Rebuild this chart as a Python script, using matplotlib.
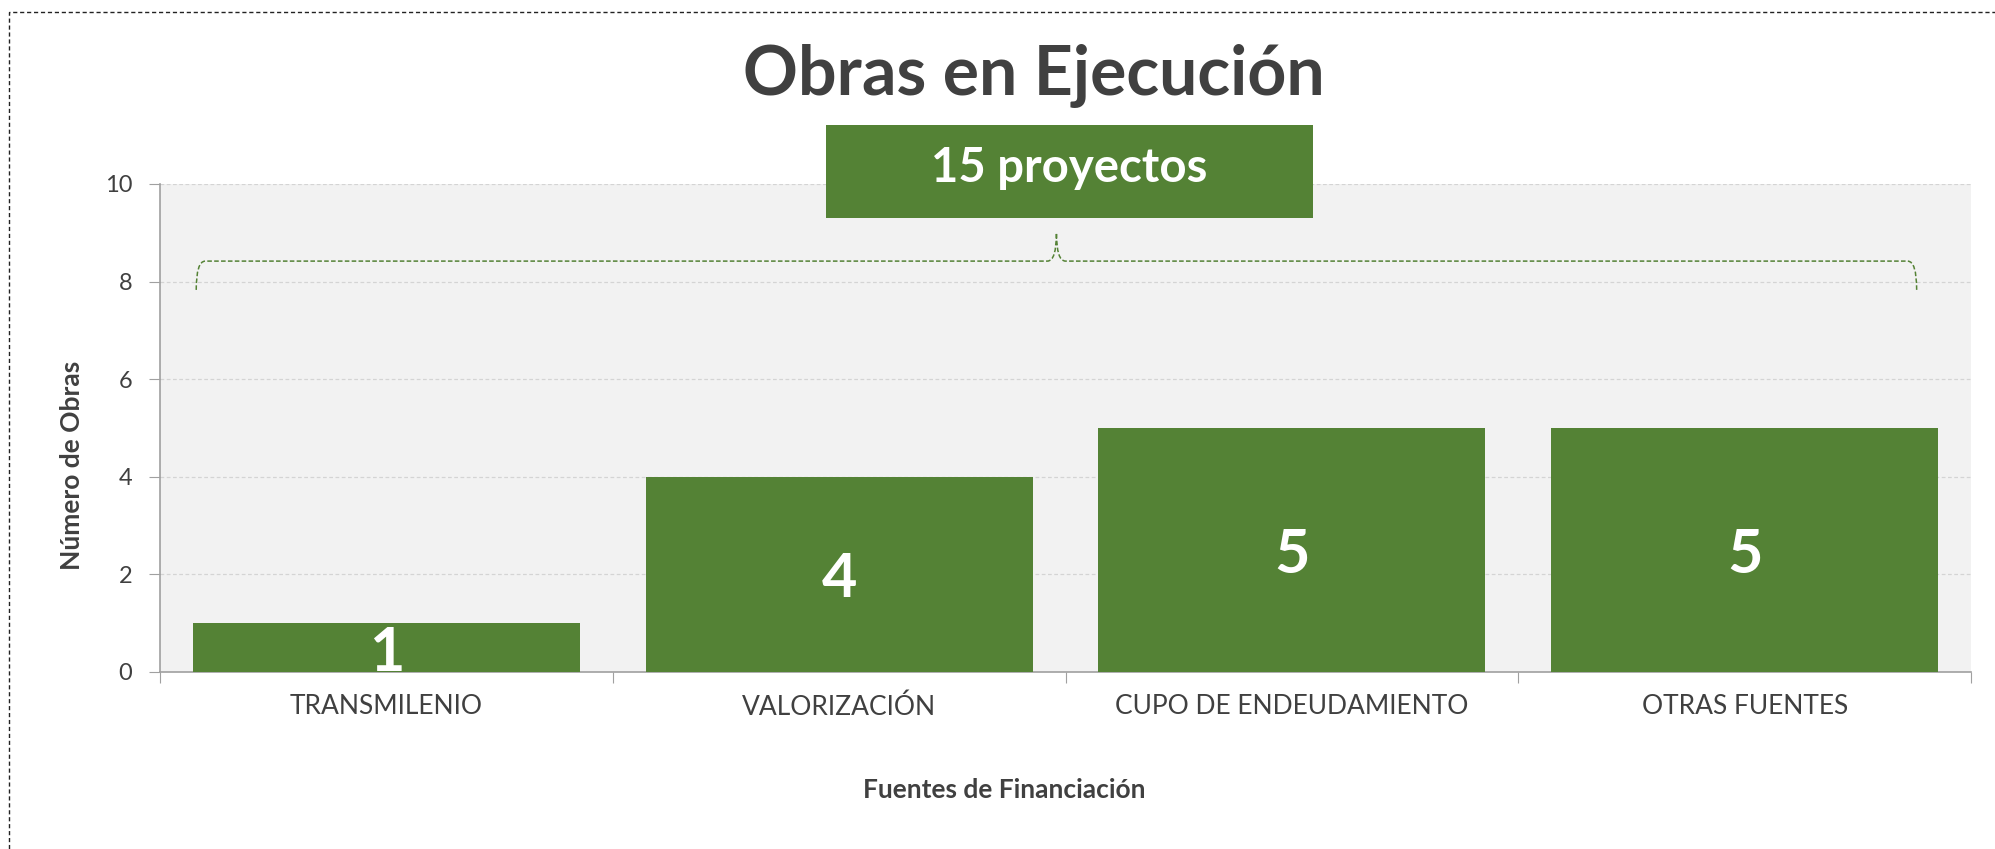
import matplotlib
matplotlib.use("Agg")
import matplotlib.pyplot as plt
from matplotlib.patches import Rectangle, PathPatch
from matplotlib.path import Path

categories = ["TRANSMILENIO", "VALORIZACIÓN", "CUPO DE ENDEUDAMIENTO", "OTRAS FUENTES"]
values = [1, 4, 5, 5]
total_label = "15 proyectos"
title = "Obras en Ejecución"
ylabel = "Número de Obras"
xlabel = "Fuentes de Financiación"
yticks = [0, 2, 4, 6, 8, 10]

GREEN = "#548235"
TXT = "#404040"
FONT = ["Lato", "DejaVu Sans"]
plt.rcParams["font.family"] = FONT

W, H = 1995, 849
fig = plt.figure(figsize=(W / 100, H / 100), dpi=100)
fig.patch.set_facecolor("white")

L, R, T, B = 160, 1971, 184, 672
ax = fig.add_axes([L / W, 1 - B / H, (R - L) / W, (B - T) / H])
ax.set_facecolor("#f2f2f2")

x = list(range(len(categories)))
ax.bar(x, values, width=0.855, color=GREEN, zorder=3)
for xi, v in zip(x, values):
    ax.text(xi, v / 2, str(v), ha="center", va="center_baseline", color="white",
            fontsize=44, fontweight="bold", zorder=4)

ax.set_xlim(-0.5, len(categories) - 0.5)
ax.set_ylim(0, 10)
ax.set_yticks(yticks)
ax.set_yticklabels([str(t) for t in yticks], fontsize=17, color=TXT)
ax.yaxis.grid(True, linestyle=(0, (3, 2)), color="#d4d4d4", linewidth=0.9, zorder=0)
ax.set_axisbelow(True)

ax.set_xticks([i - 0.5 for i in range(len(categories) + 1)])
ax.set_xticklabels([])
ax.set_xticks(x, minor=True)
ax.set_xticklabels(categories, minor=True, fontsize=19, color=TXT)
ax.tick_params(axis="x", which="minor", length=0, pad=16)
ax.tick_params(axis="x", which="major", length=8, color="#a0a0a0", direction="out")
ax.tick_params(axis="y", length=8, color="#a0a0a0", pad=12)

for s in ["top", "right"]:
    ax.spines[s].set_visible(False)
for s in ["left", "bottom"]:
    ax.spines[s].set_color("#a0a0a0")
    ax.spines[s].set_linewidth(1.2)

# brace spanning all categories
x0, x1 = -0.42, len(categories) - 0.62
xm = (x0 + x1) / 2
ye, yl, yp = 7.83, 8.42, 9.0
dx = 0.02
verts = [(x0, ye), (x0, yl), (x0 + dx, yl),
         (xm - dx, yl), (xm, yl), (xm, yp),
         (xm, yl), (xm + dx, yl),
         (x1 - dx, yl), (x1, yl), (x1, ye)]
codes = [Path.MOVETO, Path.CURVE3, Path.CURVE3,
         Path.LINETO, Path.CURVE3, Path.CURVE3,
         Path.CURVE3, Path.CURVE3,
         Path.LINETO, Path.CURVE3, Path.CURVE3]
ax.add_patch(PathPatch(Path(verts, codes), fill=False, edgecolor=GREEN,
                       linestyle=(0, (3, 1.5)), linewidth=1.1, zorder=5))

ax.set_ylabel(ylabel, fontsize=19, fontweight="bold", color=TXT)
ax.yaxis.label.set_va("baseline")
ax.yaxis.set_label_coords((80 - L) / (R - L), (B - 465.5) / (B - T))
ax.set_xlabel(xlabel, fontsize=19, fontweight="bold", color=TXT)
ax.xaxis.label.set_va("baseline")
ax.xaxis.set_label_coords((1004 - L) / (R - L), (B - 798) / (B - T))

fig.text(1034 / W, 1 - 95 / H, title, ha="center", va="baseline",
         fontsize=49, fontweight="bold", color=TXT)

bx0, bx1, by0, by1 = 826, 1313, 125, 218
fig.add_artist(Rectangle((bx0 / W, 1 - by1 / H), (bx1 - bx0) / W, (by1 - by0) / H,
                         transform=fig.transFigure, facecolor=GREEN, edgecolor="none",
                         zorder=6))
fig.text(1069 / W, 1 - 182 / H, total_label, ha="center", va="baseline",
         fontsize=34, fontweight="bold", color="white", zorder=7)

fig.add_artist(Rectangle((9 / W, -0.05), 1.2, (1 - 11.7 / H) + 0.05,
                         transform=fig.transFigure, fill=False, edgecolor="#222222",
                         linestyle=(0, (3, 2)), linewidth=1.0, zorder=1))

fig.savefig("out.png", dpi=100)
